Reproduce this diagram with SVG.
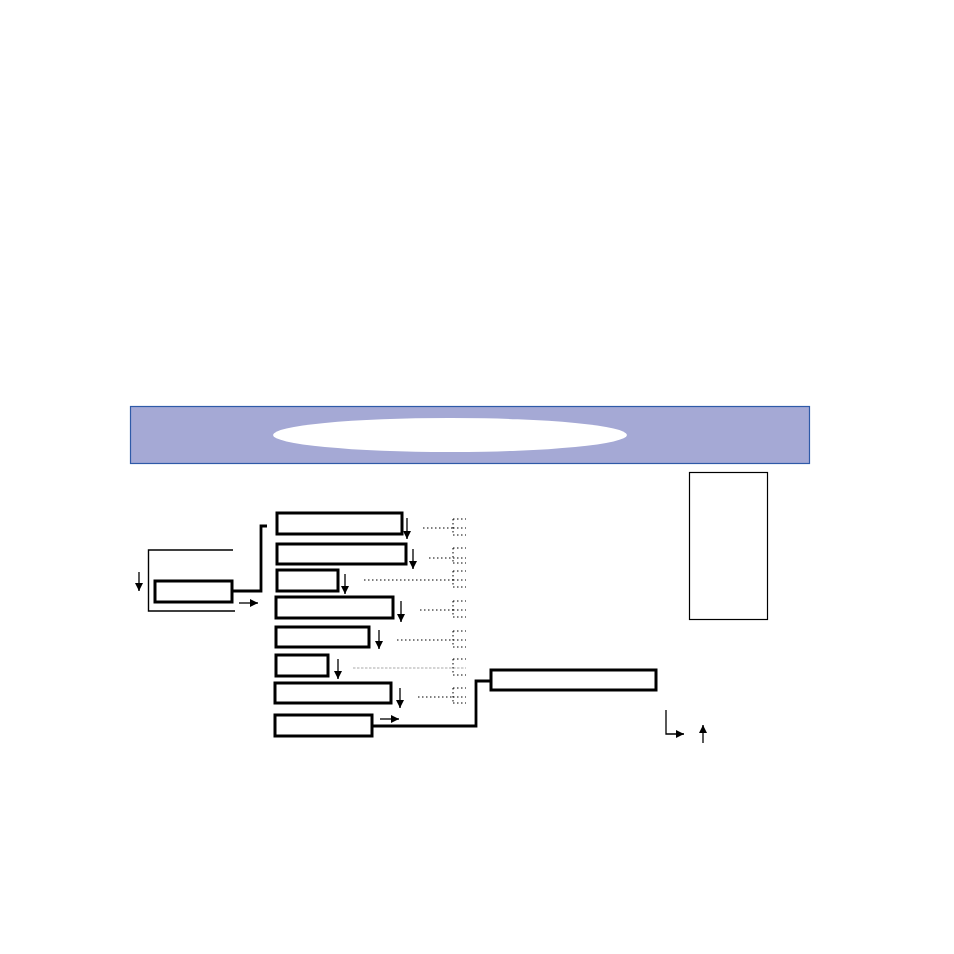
<svg xmlns="http://www.w3.org/2000/svg" width="954" height="954" viewBox="0 0 954 954">
<style>
.box{fill:#fff;stroke:#000;stroke-width:3}
.thin{fill:none;stroke:#000;stroke-width:1.4}
.conn{fill:none;stroke:#000;stroke-width:2.8}
.arr{fill:none;stroke:#000;stroke-width:1.3}
.dot{fill:none;stroke:#000;stroke-width:1;stroke-dasharray:1.5 2.5}
.gdot{fill:none;stroke:#aaa;stroke-width:1.2;stroke-dasharray:2.5 1.5}
</style>
<defs>
<marker id="ah" viewBox="0 0 10 10" refX="10" refY="5" markerWidth="8" markerHeight="8" markerUnits="userSpaceOnUse" orient="auto">
<path d="M0,0 L10,5 L0,10 z" fill="#000"/>
</marker>
</defs>
<rect width="954" height="954" fill="#fff"/>
<g id="header">
<rect x="130.5" y="406.5" width="679" height="57" fill="#a5a9d5" stroke="#2f5aa8" stroke-width="1.2"/>
<ellipse cx="450" cy="435" rx="177" ry="17" fill="#fff"/>
</g>
<g id="side-box"><rect x="689.5" y="472.5" width="78" height="147" fill="#fff" stroke="#000" stroke-width="1.2"/></g>
<g id="root"><rect x="155" y="581" width="77" height="21" class="box"/></g>
<g id="n1"><rect x="277" y="513" width="125" height="21" class="box"/></g>
<g id="n2"><rect x="277" y="544" width="129" height="20" class="box"/></g>
<g id="n3"><rect x="277" y="570" width="61" height="21" class="box"/></g>
<g id="n4"><rect x="276" y="597" width="117" height="21" class="box"/></g>
<g id="n5"><rect x="276" y="627" width="93" height="20" class="box"/></g>
<g id="n6"><rect x="276" y="655" width="52" height="21" class="box"/></g>
<g id="n7"><rect x="275" y="683" width="116" height="20" class="box"/></g>
<g id="n8"><rect x="275" y="715" width="97" height="21" class="box"/></g>
<g id="n9"><rect x="491" y="670" width="165" height="20" class="box"/></g>
<g id="connectors">
<path class="thin" d="M233,550 H148.5 V611 H235"/>
<line class="arr" x1="139" y1="572" x2="139" y2="591" marker-end="url(#ah)"/>
<line class="arr" x1="239" y1="603" x2="258" y2="603" marker-end="url(#ah)"/>
<path class="conn" d="M232,591 H261 V526 H267"/>
<path class="conn" d="M372,726 H476 V681 H491"/>
<line class="arr" x1="407" y1="518" x2="407" y2="539" marker-end="url(#ah)"/>
<line class="arr" x1="413" y1="549" x2="413" y2="569" marker-end="url(#ah)"/>
<line class="arr" x1="345" y1="574" x2="345" y2="594" marker-end="url(#ah)"/>
<line class="arr" x1="401" y1="601" x2="401" y2="622" marker-end="url(#ah)"/>
<line class="arr" x1="379" y1="630" x2="379" y2="649" marker-end="url(#ah)"/>
<line class="arr" x1="338" y1="659" x2="338" y2="679" marker-end="url(#ah)"/>
<line class="arr" x1="400" y1="688" x2="400" y2="708" marker-end="url(#ah)"/>
<line class="arr" x1="380" y1="719" x2="399" y2="719" marker-end="url(#ah)"/>
<path class="arr" d="M666,710 V734 H684" marker-end="url(#ah)"/>
<line class="arr" x1="703" y1="743" x2="703" y2="725" marker-end="url(#ah)"/>
<path class="dot" d="M423,528 H453 M453,519 V535 M453,519 H466 M453,528 H466 M453,535 H466"/>
<path class="dot" d="M429,558 H453 M453,548 V563 M453,548 H466 M453,558 H466 M453,563 H466"/>
<path class="dot" d="M364,580 H453 M453,571 V587 M453,571 H466 M453,580 H466 M453,587 H466"/>
<path class="dot" d="M420,610 H453 M453,601 V617 M453,601 H466 M453,610 H466 M453,617 H466"/>
<path class="dot" d="M397,640 H453 M453,631 V647 M453,631 H466 M453,640 H466 M453,647 H466"/>
<path class="gdot" d="M353,668 H466"/>
<path class="dot" d="M453,659 V675 M453,659 H466 M453,675 H466"/>
<path class="dot" d="M418,697 H453 M453,688 V703 M453,688 H466 M453,697 H466 M453,703 H466"/>
</g>
</svg>
